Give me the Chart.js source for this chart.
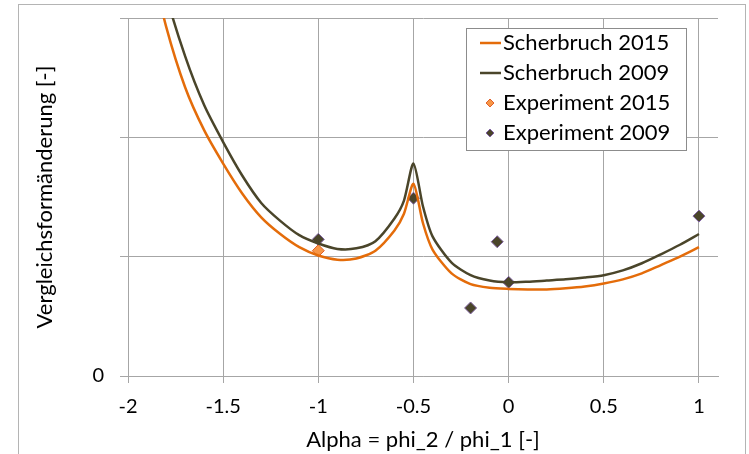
<!DOCTYPE html>
<html>
<head>
<meta charset="utf-8">
<title>Vergleichsformänderung</title>
<script src="https://cdn.jsdelivr.net/npm/chart.js@4/dist/chart.umd.min.js"></script>
<style>
    body { margin: 0; background: #fff; }
    canvas { display: block; }
</style>
</head>
<body>
<canvas id="chart1" width="749" height="454"></canvas>
<script>
// Alpha-Werte der berechneten Kurven
const alpha = [-1.9, -1.8, -1.7, -1.6, -1.5, -1.4, -1.3, -1.2, -1.1, -1.0, -0.9, -0.8, -0.7, -0.6, -0.55, -0.5,
    -0.45, -0.4, -0.3, -0.2, -0.1, 0, 0.1, 0.2, 0.3, 0.4, 0.5, 0.6, 0.7, 0.8, 0.9, 1.0];

const scherbruch2015 = [3.6, 2.93, 2.42, 2.06, 1.78, 1.53, 1.33, 1.19, 1.08, 1.01, 0.975, 0.985, 1.05, 1.22, 1.36, 1.61,
    1.28, 1.06, 0.86, 0.77, 0.74, 0.73, 0.725, 0.725, 0.735, 0.75, 0.775, 0.81, 0.86, 0.93, 1.0, 1.08];

const scherbruch2009 = [3.9, 3.2, 2.68, 2.27, 1.96, 1.68, 1.45, 1.30, 1.18, 1.11, 1.065, 1.07, 1.13, 1.32, 1.47, 1.78,
    1.42, 1.17, 0.95, 0.845, 0.80, 0.785, 0.79, 0.80, 0.81, 0.825, 0.845, 0.885, 0.945, 1.02, 1.10, 1.19];

// Messpunkte
const exp2015Alpha = [-1.0];
const exp2015Values = [1.05];

const exp2009Alpha = [-1.0, -0.5, -0.2, -0.06, 0, 1.0];
const exp2009Values = [1.145, 1.49, 0.57, 1.125, 0.785, 1.34];

const xTicks = [-2, -1.5, -1, -0.5, 0, 0.5, 1];
const yTicks = [0, 1, 2, 3];

const FONT = 'Lato, "Noto Sans", sans-serif';

function toPoints(xs, ys) {
    return xs.map((x, i) => ({ x: x, y: ys[i] }));
}

// Rahmen um das ganze Diagramm
const outerFrame = {
    id: 'outerFrame',
    beforeDraw(chart) {
        const ctx = chart.ctx;
        ctx.save();
        ctx.fillStyle = '#fff';
        ctx.fillRect(0, 0, chart.width, chart.height);
        ctx.strokeStyle = '#b4b4b4';
        ctx.lineWidth = 1;
        ctx.strokeRect(18.5, 4.5, 727, 480);
        ctx.restore();
    }
};

// Legende im Diagramm oben rechts
const boxLegend = {
    id: 'boxLegend',
    afterDraw(chart) {
        const ctx = chart.ctx;
        const box = { x: 466, y: 28, w: 220, h: 122 };
        ctx.save();
        ctx.fillStyle = '#fff';
        ctx.fillRect(box.x, box.y, box.w, box.h);
        ctx.strokeStyle = '#8c8c8c';
        ctx.lineWidth = 1;
        ctx.strokeRect(box.x + 0.5, box.y + 0.5, box.w, box.h);

        const rows = [43, 73, 103, 133];
        ctx.font = '22px ' + FONT;
        ctx.textBaseline = 'middle';
        ctx.textAlign = 'left';
        chart.data.datasets.forEach((ds, i) => {
            const y = rows[i];
            if (ds.showLine) {
                ctx.strokeStyle = ds.borderColor;
                ctx.lineWidth = 2.5;
                ctx.beginPath();
                ctx.moveTo(480, y);
                ctx.lineTo(501, y);
                ctx.stroke();
            } else {
                // kleine Raute als Symbol
                ctx.fillStyle = ds.pointBackgroundColor;
                ctx.strokeStyle = ds.pointBorderColor;
                ctx.lineWidth = 1;
                ctx.beginPath();
                ctx.moveTo(490, y - 4);
                ctx.lineTo(494, y);
                ctx.lineTo(490, y + 4);
                ctx.lineTo(486, y);
                ctx.closePath();
                ctx.fill();
                ctx.stroke();
            }
            ctx.fillStyle = '#000';
            ctx.fillText(ds.label, 503, y);
        });
        ctx.restore();
    }
};

const ctx = document.getElementById('chart1').getContext('2d');

new Chart(ctx, {
    type: 'scatter',
    data: {
        datasets: [{
            label: 'Scherbruch 2015',
            data: toPoints(alpha, scherbruch2015),
            showLine: true,
            borderColor: '#e46c0a',
            borderWidth: 2.5,
            pointRadius: 0,
            tension: 0.25
        }, {
            label: 'Scherbruch 2009',
            data: toPoints(alpha, scherbruch2009),
            showLine: true,
            borderColor: '#4a452a',
            borderWidth: 2.5,
            pointRadius: 0,
            tension: 0.25
        }, {
            label: 'Experiment 2015',
            data: toPoints(exp2015Alpha, exp2015Values),
            showLine: false,
            pointStyle: 'rectRot',
            pointRadius: 6,
            pointBackgroundColor: '#f79646',
            pointBorderColor: '#e0602a',
            pointBorderWidth: 1
        }, {
            label: 'Experiment 2009',
            data: toPoints(exp2009Alpha, exp2009Values),
            showLine: false,
            pointStyle: 'rectRot',
            pointRadius: 6,
            pointBackgroundColor: '#4a452a',
            pointBorderColor: '#7f62a2',
            pointBorderWidth: 1
        }]
    },
    options: {
        responsive: false,
        animation: false,
        layout: {
            padding: { top: 18, right: 31, left: 0, bottom: 0 }
        },
        plugins: {
            legend: { display: false },
            tooltip: { enabled: false }
        },
        scales: {
            x: {
                type: 'linear',
                min: -2,
                max: 1.1,
                afterBuildTicks: function (scale) {
                    scale.ticks = xTicks.map(v => ({ value: v }));
                },
                afterFit: function (scale) {
                    scale.height = 454 - 376;
                    scale.paddingLeft = 0;
                    scale.paddingRight = 0;
                },
                grid: {
                    color: '#a6a6a6',
                    tickLength: 7
                },
                border: { color: '#a6a6a6' },
                ticks: {
                    color: '#000',
                    padding: 12,
                    font: { family: FONT, size: 20 },
                    maxRotation: 0,
                    callback: function (v) { return String(v); }
                },
                title: {
                    display: true,
                    text: 'Alpha = phi_2 / phi_1 [-]',
                    color: '#000',
                    padding: 1,
                    font: { family: FONT, size: 22 }
                }
            },
            y: {
                min: 0,
                max: 3,
                afterBuildTicks: function (scale) {
                    scale.ticks = yTicks.map(v => ({ value: v }));
                },
                afterFit: function (scale) {
                    scale.width = 128;
                    // keine Zusatzabstände für die Beschriftung oben/unten
                    scale.paddingTop = 0;
                    scale.paddingBottom = 0;
                },
                grid: {
                    color: '#a6a6a6',
                    tickLength: 8
                },
                border: { color: '#a6a6a6' },
                ticks: {
                    color: '#000',
                    padding: 16,
                    font: { family: FONT, size: 20 },
                    callback: function (v) { return v === 0 ? '0' : ''; }
                },
                title: {
                    display: true,
                    text: 'Vergleichsformänderung [-]',
                    color: '#000',
                    padding: 32,
                    font: { family: FONT, size: 22 }
                }
            }
        }
    },
    plugins: [outerFrame, boxLegend]
});
</script>
</body>
</html>
